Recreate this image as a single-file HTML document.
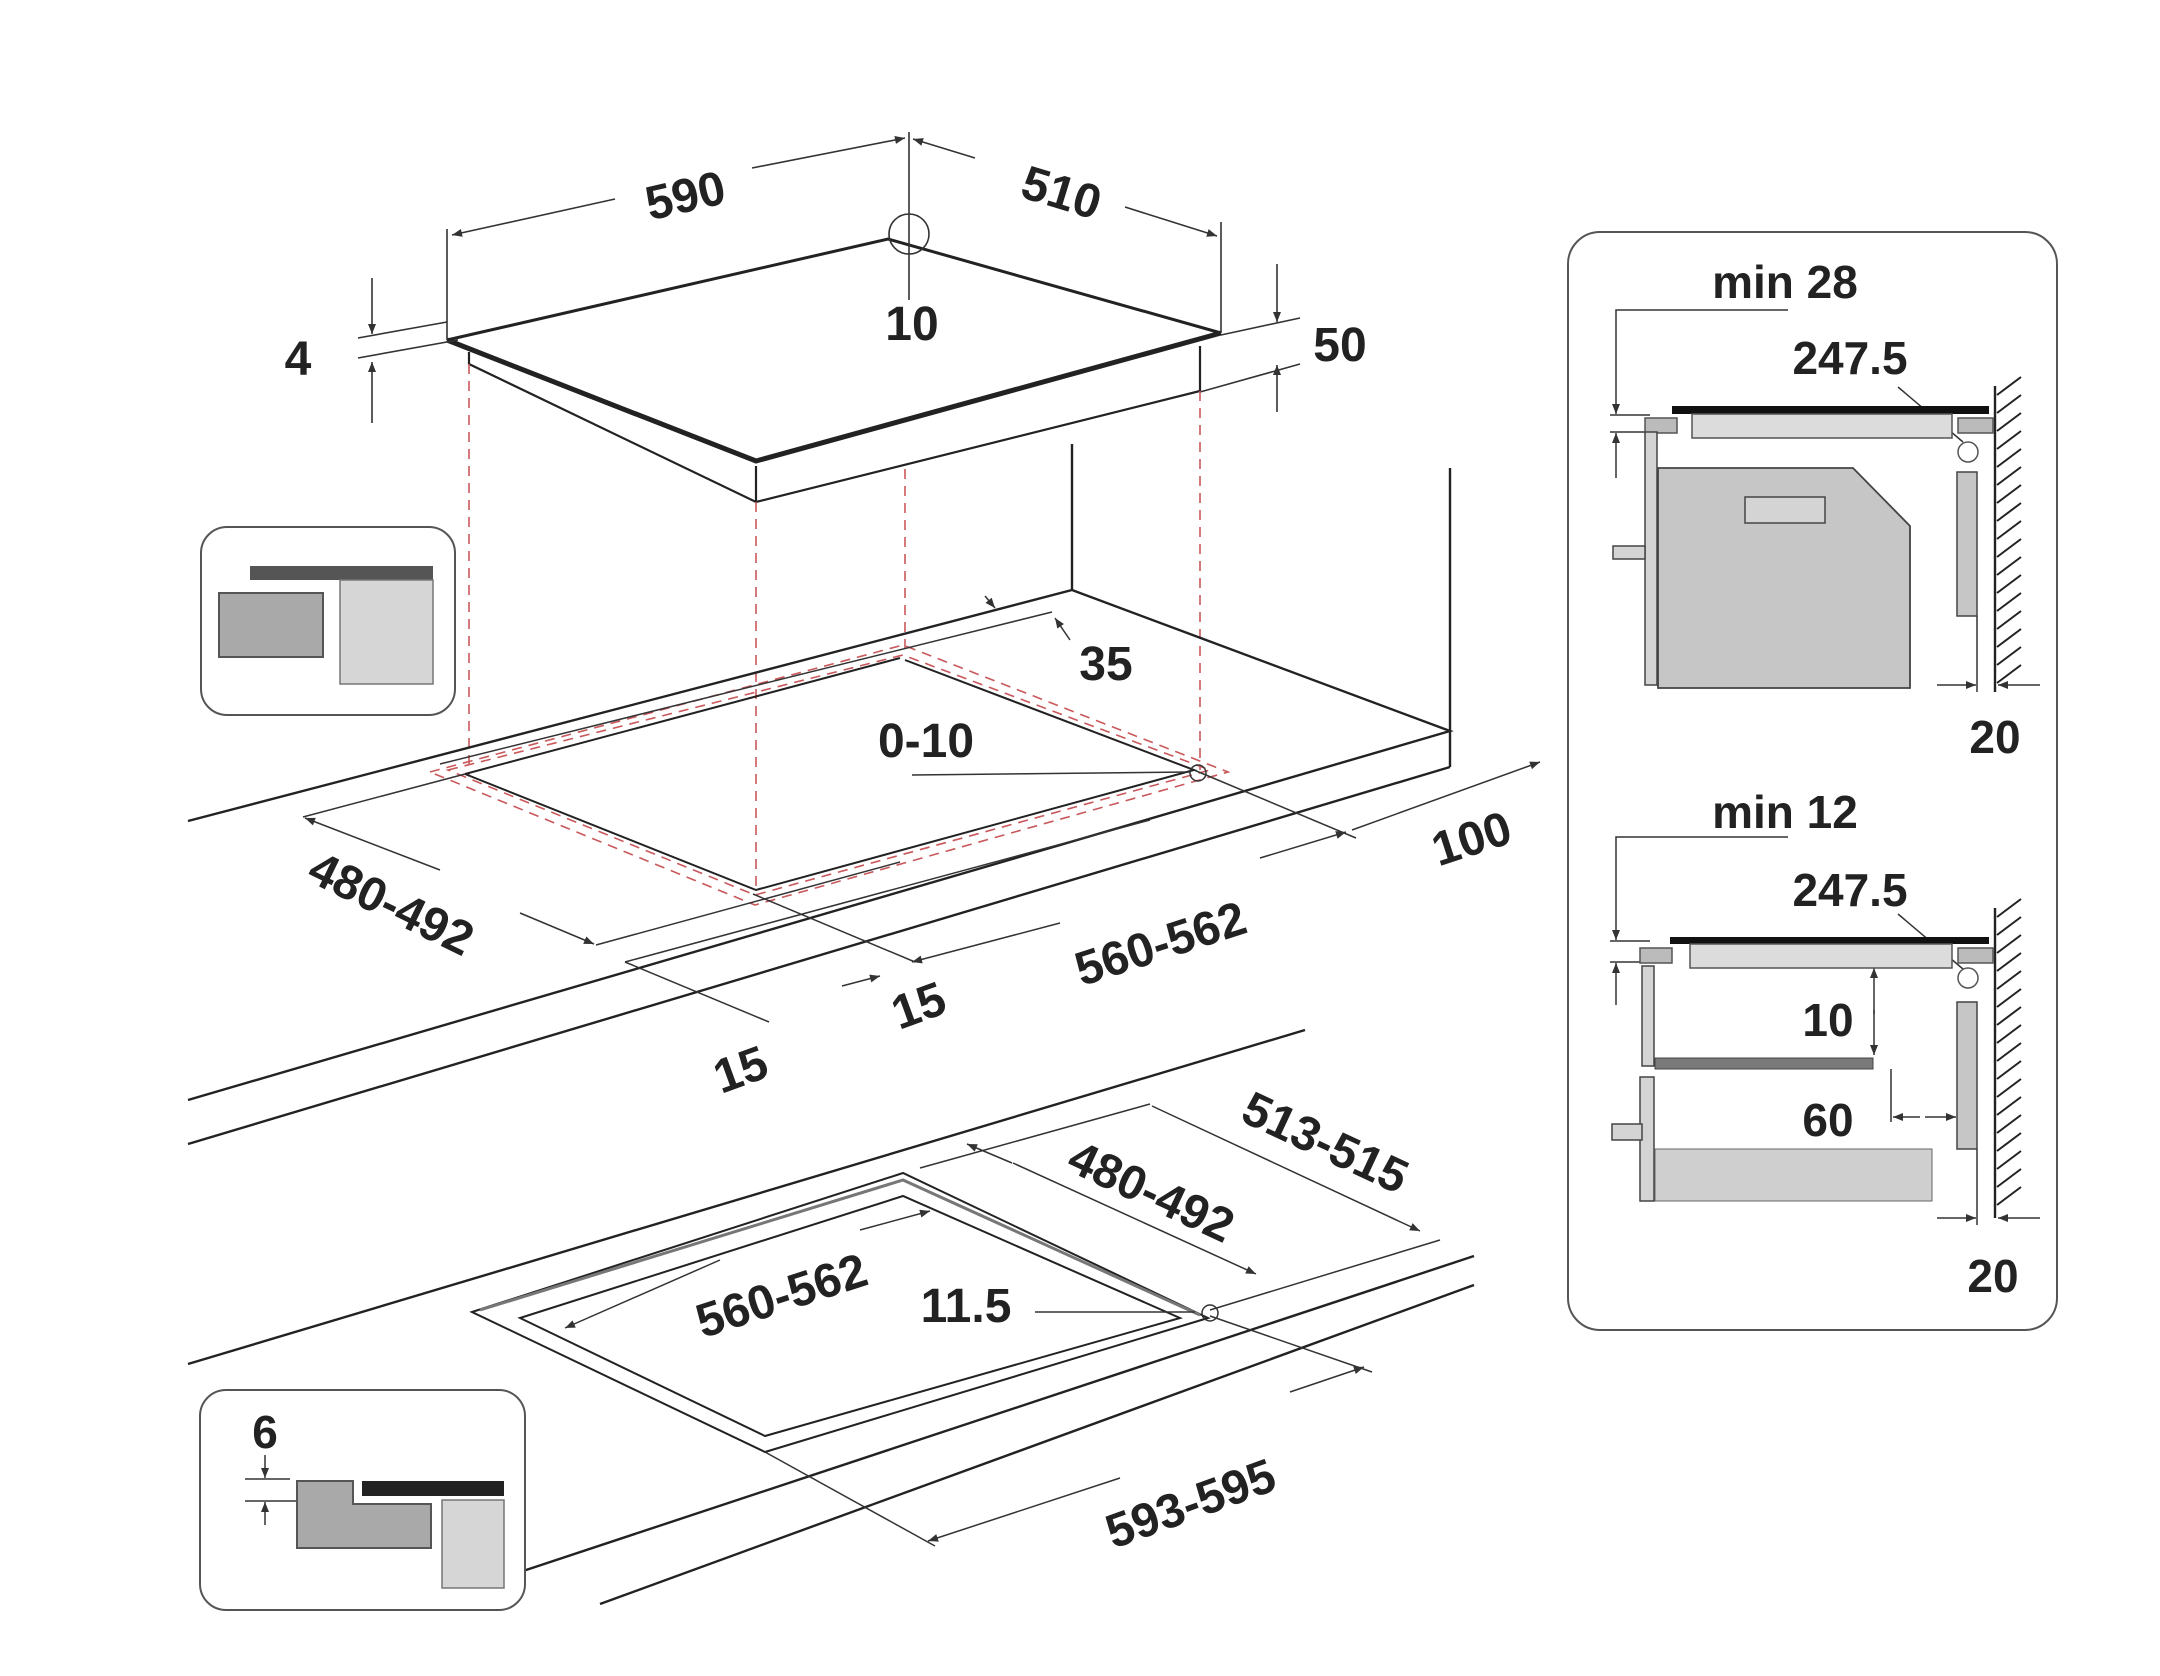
<!DOCTYPE html>
<html><head><meta charset="utf-8"><style>
html,body{margin:0;padding:0;background:#fff;}
svg{display:block;}
text{font-family:"Liberation Sans",sans-serif;font-weight:bold;fill:#222;}
</style></head><body>
<svg width="2160" height="1676" viewBox="0 0 2160 1676" xmlns="http://www.w3.org/2000/svg">
<defs>
<marker id="a" viewBox="0 0 10 10" refX="10" refY="5" markerWidth="14" markerHeight="10" markerUnits="userSpaceOnUse" orient="auto"><path d="M0,1 L10,5 L0,9 z" fill="#333"/></marker>
</defs>
<g stroke="#222" fill="none" stroke-width="2.2">
<!-- top hob -->
<path d="M447,340 L888,239 L1221,333" stroke-width="3"/>
<path d="M447,340 L756,461 L1221,333" stroke-width="5"/>
<path d="M469,352 L469,364 L756,502 L1200,391 L1200,346"/>
<path d="M756,466 L756,502"/>
</g>
<!-- top dims -->
<g stroke="#333" fill="none" stroke-width="1.6">
<line x1="447" y1="229" x2="447" y2="340"/>
<line x1="909" y1="132" x2="909" y2="300"/>
<circle cx="909" cy="234" r="20"/>
<line x1="1221" y1="222" x2="1221" y2="333"/>
<line x1="615" y1="199" x2="452" y2="235" marker-end="url(#a)"/>
<line x1="752" y1="168" x2="905" y2="138" marker-end="url(#a)"/>
<line x1="975" y1="158" x2="913" y2="139" marker-end="url(#a)"/>
<line x1="1125" y1="207" x2="1217" y2="236" marker-end="url(#a)"/>
<line x1="372" y1="278" x2="372" y2="334" marker-end="url(#a)"/>
<line x1="372" y1="423" x2="372" y2="362" marker-end="url(#a)"/>
<line x1="358" y1="338" x2="447" y2="322"/>
<line x1="358" y1="358" x2="458" y2="340"/>
<line x1="1277" y1="264" x2="1277" y2="322" marker-end="url(#a)"/>
<line x1="1277" y1="412" x2="1277" y2="365" marker-end="url(#a)"/>
<line x1="1221" y1="335" x2="1300" y2="318"/>
<line x1="1200" y1="392" x2="1300" y2="364"/>
</g>
<text x="685" y="212" font-size="48" text-anchor="middle" transform="rotate(-13 685 194)">590</text>
<text x="1062" y="209" font-size="48" text-anchor="middle" transform="rotate(17 1062 191)">510</text>
<text x="912" y="340" font-size="48" text-anchor="middle">10</text>
<text x="298" y="375" font-size="48" text-anchor="middle">4</text>
<text x="1340" y="361" font-size="48" text-anchor="middle">50</text>
<!-- red dashed -->
<g stroke="#c9585b" stroke-width="1.6" fill="none" stroke-dasharray="10,7">
<line x1="469" y1="364" x2="469" y2="776"/>
<line x1="756" y1="502" x2="756" y2="888"/>
<line x1="905" y1="469" x2="905" y2="652"/>
<line x1="1200" y1="391" x2="1200" y2="770"/>
<path d="M430,772 L903,645 L1228,772 L755,905 Z"/>
<path d="M448,770 L903,655 L1210,770 L755,895 Z"/>
</g>
<!-- upper counter -->
<g stroke="#222" fill="none" stroke-width="2.4">
<line x1="1072" y1="444" x2="1072" y2="590"/>
<path d="M188,821 L1072,590 L1450,731 L188,1100"/>
<line x1="1450" y1="468" x2="1450" y2="767"/>
<line x1="188" y1="1144" x2="1450" y2="767"/>
<path d="M465,774 L900,658" stroke-width="2"/>
<path d="M465,774 L756,890 L1194,770 L905,660" stroke-width="2"/>
</g>
<g stroke="#333" fill="none" stroke-width="1.5">
<line x1="440" y1="764" x2="1052" y2="612"/>
<line x1="985" y1="596" x2="995" y2="608" marker-end="url(#a)"/>
<line x1="1070" y1="640" x2="1055" y2="618" marker-end="url(#a)"/>
<line x1="912" y1="775" x2="1190" y2="772"/>
<circle cx="1198" cy="773" r="8"/>
<line x1="303" y1="817" x2="465" y2="774"/>
<line x1="440" y1="870" x2="305" y2="818" marker-end="url(#a)"/>
<line x1="520" y1="913" x2="594" y2="944" marker-end="url(#a)"/>
<line x1="596" y1="945" x2="900" y2="862"/>
<line x1="625" y1="962" x2="1150" y2="820"/>
<line x1="625" y1="962" x2="769" y2="1022"/>
<line x1="753" y1="894" x2="915" y2="962"/>
<line x1="842" y1="986" x2="880" y2="976" marker-end="url(#a)"/>
<line x1="1060" y1="923" x2="912" y2="962" marker-end="url(#a)"/>
<line x1="1260" y1="858" x2="1346" y2="832" marker-end="url(#a)"/>
<line x1="1194" y1="770" x2="1356" y2="838"/>
<line x1="1352" y1="830" x2="1540" y2="762" marker-end="url(#a)"/>
</g>
<text x="1106" y="680" font-size="48" text-anchor="middle">35</text>
<text x="926" y="757" font-size="48" text-anchor="middle">0-10</text>
<text x="392" y="920" font-size="48" text-anchor="middle" transform="rotate(26 392 902)">480-492</text>
<text x="1160" y="960" font-size="48" text-anchor="middle" transform="rotate(-18 1160 942)">560-562</text>
<text x="1471" y="855" font-size="48" text-anchor="middle" transform="rotate(-18 1471 837)">100</text>
<text x="918" y="1022" font-size="48" text-anchor="middle" transform="rotate(-20 918 1004)">15</text>
<text x="740" y="1086" font-size="48" text-anchor="middle" transform="rotate(-20 740 1068)">15</text>
<!-- lower counter -->
<g stroke="#222" fill="none" stroke-width="2.4">
<line x1="188" y1="1364" x2="1305" y2="1030"/>
<line x1="520" y1="1572" x2="1474" y2="1256"/>
<line x1="600" y1="1604" x2="1474" y2="1285"/>
<path d="M472,1312 L903,1173 L1208,1318 L765,1452 Z" stroke-width="2"/>
<path d="M480,1310 L903,1180 L1200,1315" stroke="#777" stroke-width="3"/>
<path d="M520,1318 L903,1196 L1180,1318 L765,1436 Z" stroke-width="2"/>
</g>
<g stroke="#333" fill="none" stroke-width="1.5">
<line x1="720" y1="1260" x2="565" y2="1328" marker-end="url(#a)"/>
<line x1="860" y1="1230" x2="930" y2="1211" marker-end="url(#a)"/>
<line x1="1035" y1="1312" x2="1195" y2="1312"/>
<circle cx="1210" cy="1313" r="8"/>
<line x1="920" y1="1168" x2="1150" y2="1104"/>
<line x1="1210" y1="1310" x2="1440" y2="1240"/>
<line x1="1010" y1="1163" x2="1055" y2="1182" marker-end="url(#a)" transform="rotate(180 1011 1163)"/>
<line x1="1013" y1="1163" x2="1256" y2="1274" marker-end="url(#a)"/>
<line x1="1152" y1="1106" x2="1420" y2="1231" marker-end="url(#a)"/>
<line x1="1200" y1="1230" x2="1152" y2="1107" opacity="0"/>
<line x1="765" y1="1452" x2="935" y2="1546"/>
<line x1="1210" y1="1316" x2="1372" y2="1372"/>
<line x1="1120" y1="1478" x2="928" y2="1541" marker-end="url(#a)"/>
<line x1="1290" y1="1392" x2="1364" y2="1367" marker-end="url(#a)"/>
</g>
<text x="781" y="1312" font-size="48" text-anchor="middle" transform="rotate(-18 781 1294)">560-562</text>
<text x="966" y="1322" font-size="48" text-anchor="middle">11.5</text>
<text x="1152" y="1208" font-size="48" text-anchor="middle" transform="rotate(25 1152 1190)">480-492</text>
<text x="1326" y="1159" font-size="48" text-anchor="middle" transform="rotate(25 1326 1141)">513-515</text>
<text x="1190" y="1520" font-size="48" text-anchor="middle" transform="rotate(-20 1190 1502)">593-595</text>
<!-- inset 1 -->
<rect x="201" y="527" width="254" height="188" rx="26" fill="#fff" stroke="#555" stroke-width="2"/>
<rect x="250" y="566" width="183" height="14" fill="#555"/>
<rect x="219" y="593" width="104" height="64" fill="#a9a9a9" stroke="#555" stroke-width="2"/>
<rect x="340" y="580" width="93" height="104" fill="#d6d6d6" stroke="#777" stroke-width="1.5"/>
<!-- inset 2 -->
<rect x="200" y="1390" width="325" height="220" rx="26" fill="#fff" stroke="#555" stroke-width="2"/>
<text x="265" y="1448" font-size="46" text-anchor="middle">6</text>
<g stroke="#333" stroke-width="1.5" fill="none">
<line x1="245" y1="1479" x2="290" y2="1479"/><line x1="245" y1="1501" x2="330" y2="1501"/>
<line x1="265" y1="1455" x2="265" y2="1478" marker-end="url(#a)"/>
<line x1="265" y1="1525" x2="265" y2="1502" marker-end="url(#a)"/>
</g>
<path d="M297,1481 L353,1481 L353,1504 L431,1504 L431,1548 L297,1548 Z" fill="#a9a9a9" stroke="#555" stroke-width="2"/>
<rect x="362" y="1481" width="142" height="15" fill="#222"/>
<rect x="442" y="1500" width="62" height="88" fill="#d6d6d6" stroke="#777" stroke-width="1.5"/>
<!-- right panel -->
<rect x="1568" y="232" width="489" height="1098" rx="32" fill="#fff" stroke="#555" stroke-width="2"/>
<g font-size="46" text-anchor="middle">
<text x="1785" y="298">min 28</text>
<text x="1850" y="374">247.5</text>
<text x="1995" y="753">20</text>
<text x="1785" y="828">min 12</text>
<text x="1850" y="906">247.5</text>
<text x="1828" y="1036">10</text>
<text x="1828" y="1136">60</text>
<text x="1993" y="1292">20</text>
</g>
<g stroke="#333" stroke-width="1.5" fill="none">
<path d="M1788,310 L1616,310 L1616,414" marker-end="url(#a)"/>
<line x1="1610" y1="415" x2="1650" y2="415"/><line x1="1610" y1="432" x2="1650" y2="432"/>
<line x1="1616" y1="478" x2="1616" y2="433" marker-end="url(#a)"/>
<line x1="1898" y1="387" x2="1963" y2="442"/>
<path d="M1788,837 L1616,837 L1616,940" marker-end="url(#a)"/>
<line x1="1610" y1="941" x2="1650" y2="941"/><line x1="1610" y1="962" x2="1650" y2="962"/>
<line x1="1616" y1="1005" x2="1616" y2="963" marker-end="url(#a)"/>
<line x1="1898" y1="914" x2="1963" y2="969"/>
<line x1="1977" y1="616" x2="1977" y2="692"/>
<line x1="1937" y1="685" x2="1976" y2="685" marker-end="url(#a)"/>
<line x1="2040" y1="685" x2="1998" y2="685" marker-end="url(#a)"/>
<line x1="1977" y1="1149" x2="1977" y2="1225"/>
<line x1="1937" y1="1218" x2="1976" y2="1218" marker-end="url(#a)"/>
<line x1="2040" y1="1218" x2="1998" y2="1218" marker-end="url(#a)"/>
<line x1="1874" y1="1014" x2="1874" y2="968" marker-end="url(#a)"/>
<line x1="1874" y1="1010" x2="1874" y2="1055" marker-end="url(#a)"/>
<line x1="1891" y1="1069" x2="1891" y2="1122"/>
<line x1="1920" y1="1117" x2="1893" y2="1117" marker-end="url(#a)"/>
<line x1="1925" y1="1117" x2="1956" y2="1117" marker-end="url(#a)"/>
</g>
<!-- upper section shapes -->
<rect x="1672" y="406" width="317" height="8" fill="#111"/>
<rect x="1692" y="414" width="260" height="24" fill="#dcdcdc" stroke="#555" stroke-width="1.5"/>
<rect x="1645" y="418" width="32" height="15" fill="#bbb" stroke="#555" stroke-width="1.5"/>
<rect x="1958" y="418" width="35" height="15" fill="#bbb" stroke="#555" stroke-width="1.5"/>
<circle cx="1968" cy="452" r="10" fill="#fff" stroke="#555" stroke-width="1.5"/>
<rect x="1645" y="432" width="12" height="253" fill="#d4d4d4" stroke="#444" stroke-width="1.5"/>
<path d="M1658,468 L1853,468 L1910,526 L1910,688 L1658,688 Z" fill="#c6c6c6" stroke="#444" stroke-width="1.8"/>
<rect x="1745" y="497" width="80" height="26" fill="#d4d4d4" stroke="#444" stroke-width="1.5"/>
<rect x="1613" y="546" width="32" height="13" fill="#d4d4d4" stroke="#444" stroke-width="1.5"/>
<rect x="1957" y="472" width="20" height="144" fill="#c6c6c6" stroke="#444" stroke-width="1.5"/>
<!-- lower section shapes -->
<rect x="1670" y="937" width="319" height="7" fill="#111"/>
<rect x="1690" y="944" width="262" height="24" fill="#dcdcdc" stroke="#555" stroke-width="1.5"/>
<rect x="1640" y="948" width="32" height="15" fill="#bbb" stroke="#555" stroke-width="1.5"/>
<rect x="1958" y="948" width="35" height="15" fill="#bbb" stroke="#555" stroke-width="1.5"/>
<circle cx="1968" cy="978" r="10" fill="#fff" stroke="#555" stroke-width="1.5"/>
<rect x="1642" y="966" width="12" height="100" fill="#d4d4d4" stroke="#444" stroke-width="1.5"/>
<rect x="1655" y="1058" width="218" height="11" fill="#7a7a7a" stroke="#444" stroke-width="1"/>
<rect x="1640" y="1077" width="14" height="124" fill="#d4d4d4" stroke="#444" stroke-width="1.5"/>
<rect x="1612" y="1124" width="30" height="16" fill="#d4d4d4" stroke="#444" stroke-width="1.5"/>
<rect x="1655" y="1149" width="277" height="52" fill="#cfcfcf" stroke="#666" stroke-width="1"/>
<rect x="1957" y="1002" width="20" height="147" fill="#c6c6c6" stroke="#444" stroke-width="1.5"/>
<!-- walls -->
<g stroke="#222" stroke-width="2.4">
<line x1="1995" y1="386" x2="1995" y2="692"/>
<line x1="1995" y1="908" x2="1995" y2="1218"/>
</g>
<g stroke="#222" stroke-width="2">
<path d="M1997,395 l24,-18 M1997,413 l24,-18 M1997,431 l24,-18 M1997,449 l24,-18 M1997,467 l24,-18 M1997,485 l24,-18 M1997,503 l24,-18 M1997,521 l24,-18 M1997,539 l24,-18 M1997,557 l24,-18 M1997,575 l24,-18 M1997,593 l24,-18 M1997,611 l24,-18 M1997,629 l24,-18 M1997,647 l24,-18 M1997,665 l24,-18 M1997,683 l24,-18"/>
<path d="M1997,917 l24,-18 M1997,935 l24,-18 M1997,953 l24,-18 M1997,971 l24,-18 M1997,989 l24,-18 M1997,1007 l24,-18 M1997,1025 l24,-18 M1997,1043 l24,-18 M1997,1061 l24,-18 M1997,1079 l24,-18 M1997,1097 l24,-18 M1997,1115 l24,-18 M1997,1133 l24,-18 M1997,1151 l24,-18 M1997,1169 l24,-18 M1997,1187 l24,-18 M1997,1205 l24,-18"/>
</g>
</svg>
</body></html>
